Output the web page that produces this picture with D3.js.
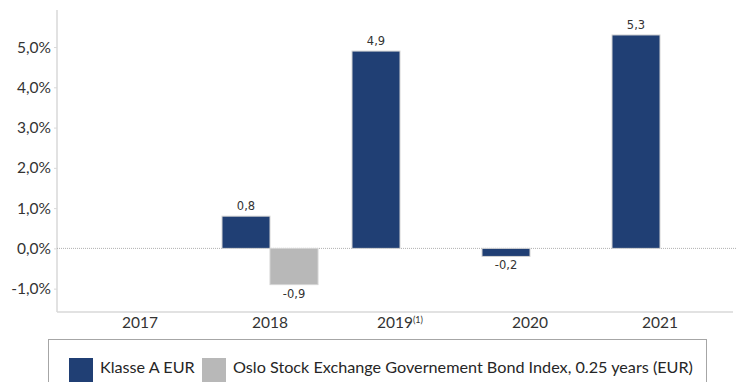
<!DOCTYPE html>
<html>
<head>
<meta charset="utf-8">
<script src="https://cdn.jsdelivr.net/npm/d3@7"></script>
<style>
  html, body { margin: 0; padding: 0; background: #ffffff; }
  svg { display: block; }
</style>
</head>
<body>
<svg id="chart" width="737" height="382"></svg>
<script>
// Annual returns per year, in percent
const years = ["2017", "2018", "2019", "2020", "2021"];
const yearNotes = ["", "", "(1)", "", ""];
const seriesNames = ["Klasse A EUR", "Oslo Stock Exchange Governement Bond Index, 0.25 years (EUR)"];
const klasseA = [null, 0.8, 4.9, -0.2, 5.3];
const osloIndex = [null, -0.9, null, null, null];
const yTicks = [-1, 0, 1, 2, 3, 4, 5];
const seriesColors = ["#203f74", "#b8b8b8"];

const svg = d3.select("#chart");
const W = 737;

const nf = d3.formatLocale({ decimal: ",", thousands: " ", grouping: [3], currency: ["", ""], minus: "-" });
const fmtTick = v => nf.format(".1f")(v) + "%";
const fmtVal = nf.format(".1f");

// Scales
const plotLeft = 57, plotTop = 10, plotBottom = 312;
const y = d3.scaleLinear().domain([-1.58, 5.92]).range([plotBottom, plotTop]);
const x0 = d3.scaleBand().domain(years).range([75, 725])
  .paddingInner(34 / 130).paddingOuter(17 / 130);
const x1 = d3.scaleBand().domain(seriesNames).range([0, x0.bandwidth()]);

// Y axis
const yAxis = d3.axisLeft(y).tickValues(yTicks).tickFormat(fmtTick).tickSize(3).tickPadding(3);
const gy = svg.append("g").attr("transform", `translate(${plotLeft},0)`).call(yAxis);
gy.select(".domain").remove();
gy.selectAll(".tick line").attr("stroke", "#d9d9d9");
gy.selectAll(".tick text")
  .attr("font-family", "Lato, 'Open Sans', sans-serif")
  .attr("font-size", 15.5)
  .attr("fill", "#333333");

// Plot frame lines
svg.append("line")
  .attr("x1", plotLeft).attr("x2", plotLeft)
  .attr("y1", plotTop).attr("y2", plotBottom)
  .attr("stroke", "#d9d9d9").attr("stroke-width", 1.5);
svg.append("line")
  .attr("x1", plotLeft).attr("x2", 733)
  .attr("y1", plotBottom).attr("y2", plotBottom)
  .attr("stroke", "#d9d9d9").attr("stroke-width", 1.5);

// Zero line
svg.append("line")
  .attr("x1", plotLeft).attr("x2", W)
  .attr("y1", y(0)).attr("y2", y(0))
  .attr("stroke", "#b0b0b0").attr("stroke-width", 1)
  .attr("stroke-dasharray", "1,1");

// Bars
const rows = years.map((yr, i) => ({
  year: yr,
  values: [
    { name: seriesNames[0], v: klasseA[i], color: seriesColors[0] },
    { name: seriesNames[1], v: osloIndex[i], color: seriesColors[1] }
  ].filter(d => d.v !== null)
}));

const groups = svg.append("g").selectAll("g").data(rows).join("g")
  .attr("transform", d => `translate(${x0(d.year)},0)`);

groups.selectAll("rect").data(d => d.values).join("rect")
  .attr("x", d => x1(d.name))
  .attr("width", x1.bandwidth())
  .attr("y", d => y(Math.max(0, d.v)))
  .attr("height", d => Math.abs(y(d.v) - y(0)))
  .attr("fill", d => d.color)
  .attr("stroke", "#d4d4d4")
  .attr("stroke-width", 1);

groups.selectAll("text.val").data(d => d.values).join("text")
  .attr("class", "val")
  .attr("x", d => x1(d.name) + x1.bandwidth() / 2)
  .attr("y", d => d.v >= 0 ? y(d.v) - 6 : y(d.v) + 13)
  .attr("text-anchor", "middle")
  .attr("font-family", "'DejaVu Sans', Verdana, sans-serif")
  .attr("font-size", 11.5)
  .attr("fill", "#333333")
  .text(d => fmtVal(d.v));

// X axis labels
const xl = svg.append("g").selectAll("text").data(years).join("text")
  .attr("x", d => x0(d) + x0.bandwidth() / 2)
  .attr("y", 328)
  .attr("text-anchor", "middle")
  .attr("font-family", "Lato, 'Open Sans', sans-serif")
  .attr("font-size", 15.5)
  .attr("fill", "#333333");
xl.append("tspan").text(d => d);
xl.append("tspan")
  .attr("font-size", 9)
  .attr("dy", -5)
  .text((d, i) => yearNotes[i]);

// Legend
const legend = svg.append("g");
legend.append("rect")
  .attr("x", 48.5).attr("y", 339.5).attr("width", 658).attr("height", 60)
  .attr("fill", "#ffffff").attr("stroke", "#a6a6a6").attr("stroke-width", 1);
const legendX = [69, 202];
const legendItems = legend.selectAll("g").data(seriesNames).join("g")
  .attr("transform", (d, i) => `translate(${legendX[i]},358)`);
legendItems.append("rect")
  .attr("width", 24).attr("height", 24)
  .attr("fill", (d, i) => seriesColors[i]);
legendItems.append("text")
  .attr("x", 31).attr("y", 15)
  .attr("font-family", "Lato, 'Open Sans', sans-serif")
  .attr("font-size", 16.2)
  .attr("fill", "#262626")
  .text(d => d);
</script>
</body>
</html>
